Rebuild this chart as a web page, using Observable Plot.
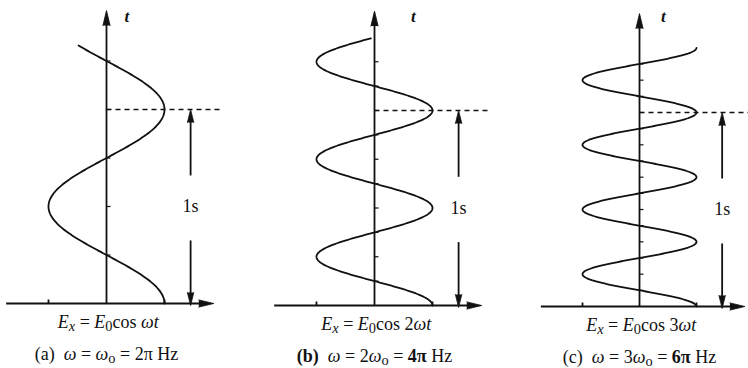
<!DOCTYPE html>
<html>
<head>
<meta charset="utf-8">
<script src="https://cdn.jsdelivr.net/npm/d3@7"></script>
<script src="https://cdn.jsdelivr.net/npm/@observablehq/plot@0.6"></script>
<style>
  html, body { margin: 0; padding: 0; background: #fff; }
  #fig { display: flex; width: 748px; height: 368px; overflow: hidden; }
</style>
</head>
<body>
<div id="fig"></div>
<script>
// Three panels: the field E_x = E0 cos(nωt) drawn against a vertical time axis.
const panelIds = ["a", "b", "c"];
const harmonics = [1, 2, 3];              // angular frequency as a multiple of ω0 = 2π rad/s
const curveEnds = [1.33, 1.37, 1.333];    // last instant drawn on each curve, in s
const formulaLabels = ["E_x = E_0cos ωt", "E_x = E_0cos 2ωt", "E_x = E_0cos 3ωt"];
const omegaLabels = ["(a)  ω = ω_o = 2π Hz", "*(b)*  ω = 2ω_o = *4π* Hz", "(c)  ω = 3ω_o = *6π* Hz"];
const timeAxisLabel = "t";
const spanLabel = "1s";
const spanSeconds = 1;                    // marked interval, s

// Geometry of each panel: origin of the field axis, pixels per E0, baseline, pixels per second.
const frames = [
  {width: 250, origin: 106, amp: 58, base: 303, sec: 194, tLabelX: 0.35},
  {width: 250, origin: 124, amp: 58, base: 305, sec: 195, tLabelX: 0.67},
  {width: 248, origin: 139, amp: 57, base: 306, sec: 194, tLabelX: 0.42}
];
const ink = "#111";
const serif = "Liberation Serif, Times New Roman, serif";

// Small rich-text renderer: *bold*, _s subscript, italic symbols.
const italicChars = new Set(["E", "x", "t", "ω"]);
const richLabels = new Set([...formulaLabels, ...omegaLabels]);
function styleRuns(src) {
  const runs = [];
  let bold = false;
  const push = (text, italic, sub) => {
    const last = runs[runs.length - 1];
    if (last && last.italic === italic && last.sub === sub && last.bold === bold) last.text += text;
    else runs.push({text, italic, sub, bold});
  };
  for (let k = 0; k < src.length; k++) {
    let ch = src[k];
    if (ch === "*") { bold = !bold; continue; }
    const word = ["cos", "Hz"].find((w) => src.startsWith(w, k));
    if (word) { push(word, false, false); k += word.length - 1; continue; }
    let sub = false;
    if (ch === "_") { sub = true; ch = src[++k]; }
    push(ch, italicChars.has(ch), sub);
  }
  return runs;
}
function applyRich(svg) {
  d3.select(svg).selectAll("text").each(function () {
    const src = this.textContent;
    if (!richLabels.has(src)) return;
    const el = d3.select(this).text(null).style("white-space", "pre");
    let shifted = false;
    for (const r of styleRuns(src)) {
      const span = el.append("tspan").text(r.text);
      if (r.italic) span.attr("font-style", "italic");
      if (r.bold) span.attr("font-weight", "bold");
      if (r.sub) { span.attr("font-size", "80%"); if (!shifted) { span.attr("dy", 3); shifted = true; } }
      else if (shifted) { span.attr("dy", -3); shifted = false; }
    }
  });
}

const fig = document.getElementById("fig");
panelIds.forEach((id, i) => {
  const n = harmonics[i], f = frames[i], end = curveEnds[i];
  const px = 1 / f.amp, pt = 1 / f.sec;   // one pixel in data units
  const xLeft = -1.73, xRight = 1.85, tTop = 1.51, dashEnd = 2.0, spanX = 1.45;

  const wave = d3.range(0, 501).map((k) => {
    const t = (end * k) / 500;
    return {t, e: Math.cos(2 * Math.PI * n * t)};
  });
  const quarter = 1 / (4 * n);
  const timeTicks = d3.range(1, Math.floor(end / quarter + 1e-6) + 1).map((k) => ({t: k * quarter}));

  const rules = [
    {x1: xLeft, x2: xRight - 10 * px, y1: 0, y2: 0},                   // field axis
    {x1: 0, x2: 0, y1: 0, y2: tTop - 10 * pt},                         // time axis
    {x1: spanX, x2: spanX, y1: 0.66, y2: spanSeconds - 8 * pt},         // interval arrow, upper
    {x1: spanX, x2: spanX, y1: 8 * pt, y2: 0.325},                     // interval arrow, lower
    {x1: -1, x2: -1, y1: 0, y2: 4 * pt},                                // amplitude ticks
    {x1: 1, x2: 1, y1: 0, y2: 4 * pt}
  ];
  const axisHeads = [
    {x: xRight, y: 0, rotate: 90},
    {x: 0, y: tTop, rotate: 0}
  ];
  const spanHeads = [
    {x: spanX, y: spanSeconds, rotate: 0},
    {x: spanX, y: -2 * pt, rotate: 180}
  ];

  const chart = Plot.plot({
    width: f.width,
    height: 368,
    margin: 0,
    style: {fontFamily: serif, background: "#fff", color: ink},
    x: {domain: [0, 1], range: [f.origin, f.origin + f.amp], axis: null},
    y: {domain: [0, 1], range: [f.base, f.base - f.sec], axis: null},
    marks: [
      Plot.link(rules, {x1: "x1", x2: "x2", y1: "y1", y2: "y2", stroke: ink, strokeWidth: 1.8}),
      Plot.link(timeTicks, {x1: 0, x2: 4 * px, y1: "t", y2: "t", stroke: ink, strokeWidth: 1.2}),
      Plot.link([{t: spanSeconds}], {x1: 0, x2: dashEnd, y1: "t", y2: "t", stroke: ink, strokeWidth: 1.3, strokeDasharray: "5,4"}),
      Plot.vector(axisHeads, {x: "x", y: "y", rotate: "rotate", length: 15, r: 3.6, shape: "spike", anchor: "end", fill: ink, fillOpacity: 1, stroke: ink, strokeWidth: 0.8}),
      Plot.vector(spanHeads, {x: "x", y: "y", rotate: "rotate", length: 13, r: 3.2, shape: "spike", anchor: "end", fill: ink, fillOpacity: 1, stroke: ink, strokeWidth: 0.8}),
      Plot.line(wave, {x: "e", y: "t", stroke: ink, strokeWidth: 1.8, curve: "linear"}),
      Plot.text([{x: f.tLabelX, y: (f.base - 16) / f.sec}], {x: "x", y: "y", text: () => timeAxisLabel, fontSize: 17, fontStyle: "italic", fontWeight: "bold", fill: ink, fontFamily: serif}),
      Plot.text([{x: spanX, y: spanSeconds / 2}], {x: "x", y: "y", text: () => spanLabel, fontSize: 18, fill: ink, fontFamily: serif}),
      Plot.text([{x: 0.03, y: 0}], {x: "x", y: "y", text: () => formulaLabels[i], dy: 19, fontSize: 18, fill: ink, fontFamily: serif}),
      Plot.text([{x: 0, y: 0}], {x: "x", y: "y", text: () => omegaLabels[i], dy: 51, fontSize: 18, fill: ink, fontFamily: serif})
    ]
  });
  applyRich(chart);
  fig.appendChild(chart);
});
</script>
</body>
</html>
